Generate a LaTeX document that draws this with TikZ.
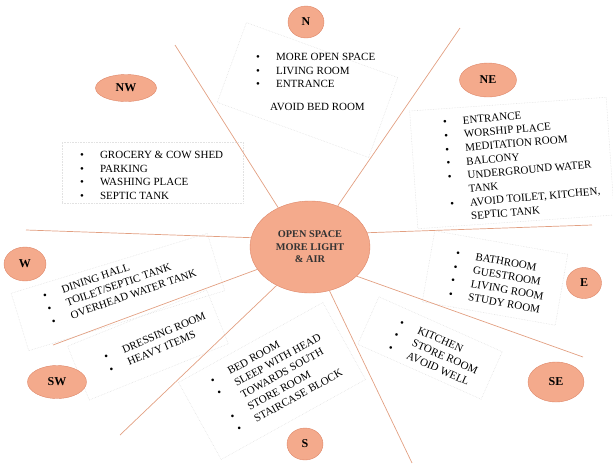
\documentclass[tikz,border=0pt]{standalone}
\usepackage{fontspec}
\setmainfont{Liberation Serif}
\usetikzlibrary{shapes.geometric}

\definecolor{c1}{RGB}{244,170,140}
\definecolor{c2}{RGB}{222,135,105}
\definecolor{c3}{RGB}{226,160,130}
\definecolor{c4}{RGB}{226,226,226}

\newcommand{\itm}{\textbullet\hspace{16pt}}
\newcommand{\noitm}{\phantom{\textbullet}\hspace{16pt}}

\begin{document}
\begin{tikzpicture}[x=1pt,y=-1pt,
    dir/.style={ellipse,draw=c2,fill=c1,inner sep=0pt,font=\fontsize{12}{12}\selectfont\bfseries},
    lst/.style={align=left,inner sep=0pt,anchor=north west,font=\fontsize{11}{13.7}\selectfont},
    bx/.style={draw=c4,densely dotted,line width=0.6pt,inner sep=0pt},
    ray/.style={draw=c3,line width=0.7pt}]
      \useasboundingbox (0,0) rectangle (613,467);

      \node[bx,minimum width=161pt,minimum height=85pt,rotate=-20] (bN) at (307.5,90) {};
      \node[bx,minimum width=197pt,minimum height=118pt,rotate=4] (bNE) at (512,163) {};
      \node[bx,minimum width=181pt,minimum height=61pt] (bNW) at (152.5,172.5) {};
      \node[bx,minimum width=205pt,minimum height=60pt,rotate=17] (bW) at (118,292) {};
      \node[bx,minimum width=135pt,minimum height=72pt,rotate=-10] (bE) at (495,278) {};
      \node[bx,minimum width=150pt,minimum height=58pt,rotate=22] (bSW) at (148,345) {};
      \node[bx,minimum width=165pt,minimum height=88pt,rotate=29] (bS) at (272,381) {};
      \node[bx,minimum width=135pt,minimum height=52pt,rotate=-24] (bSE) at (430,348) {};

      \node[ellipse,draw=c2,fill=c1,minimum width=120pt,minimum height=92pt,align=center,
        text=black!80,font=\fontsize{10.3}{12.5}\selectfont\bfseries] (c) at (310,247)
        {OPEN SPACE\\MORE LIGHT\\\& AIR};

      \coordinate (rNW) at (175,45);
      \coordinate (rNE) at (460,28);
      \coordinate (rW) at (26,230);
      \coordinate (rE) at (592,225);
      \coordinate (rESE) at (583,357);
      \coordinate (rSSE) at (412,463);
      \coordinate (rSSW) at (120,435);
      \coordinate (rWSW) at (53,345);

      \draw[ray] (c.129) -- (rNW);
      \draw[ray] (c.56) -- (rNE);
      \draw[ray] (c.171) -- (rW);
      \draw[ray] (c.14) -- (rE);
      \draw[ray] (c.-32) -- (rESE);
      \draw[ray] (c.-66) -- (rSSE);
      \draw[ray] (c.-131) -- (rSSW);
      \draw[ray] (c.-157) -- (rWSW);

      \node[dir,minimum width=36pt,minimum height=32pt] (dN) at (306,22) {N};
      \node[dir,minimum width=57pt,minimum height=34pt] (dNE) at (488,80) {NE};
      \node[dir,minimum width=61pt,minimum height=27pt] (dNW) at (126,88) {NW};
      \node[dir,minimum width=42pt,minimum height=34pt] (dW) at (25,264) {W};
      \node[dir,minimum width=35pt,minimum height=31pt] (dE) at (584,283) {E};
      \node[dir,minimum width=59pt,minimum height=33pt] (dSW) at (57,382) {SW};
      \node[dir,minimum width=56pt,minimum height=40pt] (dSE) at (556,382) {SE};
      \node[dir,minimum width=36pt,minimum height=32pt] (dS) at (305,444) {S};

      \node[lst] (lN) at (256,53) {\itm MORE OPEN SPACE\\\itm LIVING ROOM\\\itm ENTRANCE};
      \node[inner sep=0pt,font=\fontsize{11}{13.7}\selectfont] (aN) at (317.5,106.5) {AVOID BED ROOM};
      \node[lst,rotate=5] (lNE) at (442.5,118.4) {\itm ENTRANCE\\\itm WORSHIP PLACE\\\itm MEDITATION ROOM\\
        \itm BALCONY\\\itm UNDERGROUND WATER\\\noitm TANK\\\itm AVOID TOILET, KITCHEN,\\\noitm SEPTIC TANK};
      \node[lst] (lNW) at (80,151) {\itm GROCERY \& COW SHED\\\itm PARKING\\\itm WASHING PLACE\\\itm SEPTIC TANK};
      \node[lst,rotate=19] (lW) at (41.7,292.6) {\itm DINING HALL\\\itm TOILET/SEPTIC TANK\\\itm OVERHEAD WATER TANK};
      \node[lst,rotate=-10] (lE) at (456.6,249.3) {\itm BATHROOM\\\itm GUESTROOM\\\itm LIVING ROOM\\\itm STUDY ROOM};
      \node[lst,rotate=23] (lSW) at (102.7,354.1) {\itm DRESSING ROOM\\\itm HEAVY ITEMS};
      \node[lst,rotate=29] (lS) at (209,378) {\itm BED ROOM\\\itm SLEEP WITH HEAD\\\noitm TOWARDS SOUTH\\
        \itm STORE ROOM\\\itm STAIRCASE BLOCK};
      \node[lst,rotate=-24] (lSE) at (401.7,318.2) {\itm KITCHEN\\\itm STORE ROOM\\\itm AVOID WELL};
    \end{tikzpicture}
\end{document}
